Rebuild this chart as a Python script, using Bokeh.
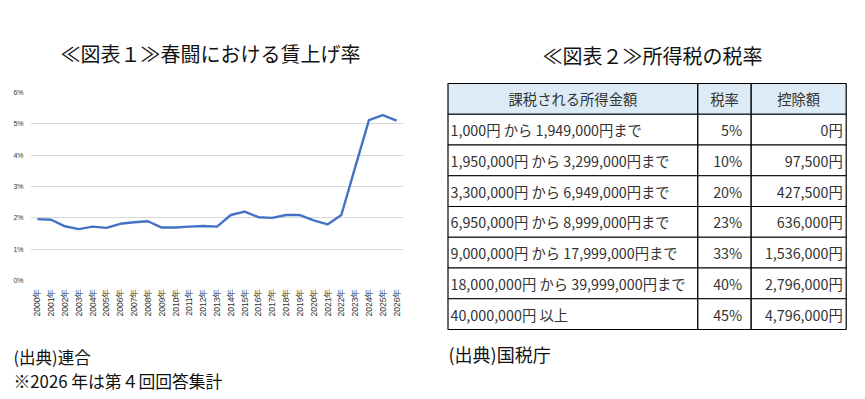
from bokeh.plotting import figure
from bokeh.models import FactorRange, Range1d, FixedTicker, PrintfTickFormatter, Title
from bokeh.layouts import row
from bokeh.core.properties import value
from bokeh.embed import file_html
from bokeh.resources import INLINE
import math

# ---------------- data ----------------
years = [f"{y}年" for y in range(2000, 2027)]
wage_rise = [1.96, 1.94, 1.73, 1.64, 1.72, 1.68, 1.81, 1.86, 1.89, 1.69,
             1.69, 1.72, 1.74, 1.72, 2.09, 2.20, 2.02, 2.00, 2.09, 2.09,
             1.92, 1.79, 2.09, 3.61, 5.12, 5.28, 5.10]
y_ticks = [0, 1, 2, 3, 4, 5, 6]

title1 = "≪図表１≫春闘における賃上げ率"
note1a = "(出典)連合"
note1b = "※2026 年は第４回回答集計"

title2 = "≪図表２≫所得税の税率"
note2 = "(出典)国税庁"
headers = ["課税される所得金額", "税率", "控除額"]
income = ["1,000円 から 1,949,000円まで", "1,950,000円 から 3,299,000円まで",
          "3,300,000円 から 6,949,000円まで", "6,950,000円 から 8,999,000円まで",
          "9,000,000円 から 17,999,000円まで", "18,000,000円 から 39,999,000円まで",
          "40,000,000円 以上"]
rates = ["5%", "10%", "20%", "23%", "33%", "40%", "45%"]
deductions = ["0円", "97,500円", "427,500円", "636,000円", "1,536,000円",
              "2,796,000円", "4,796,000円"]

JP = "Noto Sans CJK JP"
W1, W2, H = 440, 425, 399

# ---------------- left: line chart ----------------
FL, FR, FT, FB = 30, 403, 92, 280   # frame edges inside figure
p = figure(width=W1, height=H, x_range=FactorRange(*years, range_padding=0),
           y_range=Range1d(0, 6), output_backend="svg", toolbar_location=None,
           min_border_left=FL, min_border_right=W1 - FR,
           min_border_top=FT, min_border_bottom=H - FB, frame_align=False,
           title=None)
p.outline_line_color = None
p.border_fill_color = "white"
p.line(x=years, y=wage_rise, line_color="#4472C4", line_width=2.4,
       line_join="round")
p.xgrid.grid_line_color = None
p.ygrid.grid_line_color = "#D9D9D9"
p.ygrid.grid_line_width = 1
p.yaxis.ticker = FixedTicker(ticks=y_ticks)
p.yaxis.formatter = PrintfTickFormatter(format="%d%%")
for ax in (p.xaxis, p.yaxis):
    ax.axis_line_color = None
    ax.major_tick_line_color = None
    ax.minor_tick_line_color = None
    ax.major_tick_out = 0
    ax.major_tick_in = 0
    ax.major_label_text_color = "#333333"
    ax.major_label_text_font = "Liberation Sans"
p.yaxis.major_label_text_font_size = "7px"
p.yaxis.major_label_standoff = 7
p.xaxis.major_label_text_font_size = "8.5px"
p.xaxis.major_label_orientation = math.pi / 2
p.xaxis.major_label_standoff = 8
# blank axis label only used to leave room above the footnotes
p.xaxis.axis_label = " "
p.xaxis.axis_label_text_font_size = "1px"
p.xaxis.axis_label_standoff = 19

p.add_layout(Title(text=title1, align="left", offset=30, vertical_align="middle",
                   standoff=48, text_font=JP, text_font_size="20px",
                   text_font_style="normal", text_color="#111111"), "above")
p.add_layout(Title(text=note1a, align="left", offset=-17, vertical_align="bottom",
                   standoff=0, text_font=JP, text_font_size="16.5px",
                   text_line_height=0.92,
                   text_font_style="normal", text_color="#111111"), "below")
p.add_layout(Title(text=note1b, align="left", offset=-17, vertical_align="top",
                   standoff=0, text_font=JP, text_font_size="16.8px",
                   text_line_height=0.92,
                   text_font_style="normal", text_color="#111111"), "below")

# ---------------- right: table ----------------
q = figure(width=W2, height=H, x_range=Range1d(W1, W1 + W2), y_range=Range1d(H, 0),
           output_backend="svg", toolbar_location=None, min_border=0,
           frame_align=False, title=None)
q.axis.visible = False
q.grid.visible = False
q.outline_line_color = None
q.border_fill_color = "white"

col_edges = [447.5, 697.3, 750.7, 845.7]
top, row_h = 83.0, 30.75
n = len(income) + 1
lefts, rights, tops, bottoms, fills = [], [], [], [], []
for r in range(n):
    for c in range(3):
        lefts.append(col_edges[c]); rights.append(col_edges[c + 1])
        tops.append(top + r * row_h); bottoms.append(top + (r + 1) * row_h)
        fills.append("#DDEBF7" if r == 0 else "white")
q.quad(left=lefts, right=rights, top=tops, bottom=bottoms, fill_color=fills,
       line_color="black", line_width=1.2)

tcol = "#333333"
fs = "14.3px"
hx = [(col_edges[i] + col_edges[i + 1]) / 2 for i in range(3)]
q.text(x=hx, y=[top + row_h / 2] * 3, text=headers, text_font=value(JP),
       text_font_size=fs, text_align="center", text_baseline="middle",
       text_color=tcol)
ys = [top + (i + 1.5) * row_h for i in range(len(income))]
q.text(x=[col_edges[0] + 2.5] * len(income), y=ys, text=income,
       text_font=value(JP), text_font_size=fs, text_align="left",
       text_baseline="middle", text_color=tcol)
q.text(x=[col_edges[2] - 9] * len(rates), y=ys, text=rates,
       text_font=value(JP), text_font_size=fs, text_align="right",
       text_baseline="middle", text_color=tcol)
q.text(x=[col_edges[3] - 3.5] * len(deductions), y=ys, text=deductions,
       text_font=value(JP), text_font_size=fs, text_align="right",
       text_baseline="middle", text_color=tcol)

q.text(x=[652], y=[55], text=[title2], text_font=value(JP), text_font_size="20px",
       text_align="center", text_baseline="middle", text_color="#111111")
q.text(x=[448], y=[353], text=[note2], text_font=value(JP), text_font_size="18px",
       text_align="left", text_baseline="middle", text_color="#111111")

layout = row(p, q)
open("out.html", "w").write(file_html(layout, INLINE))
